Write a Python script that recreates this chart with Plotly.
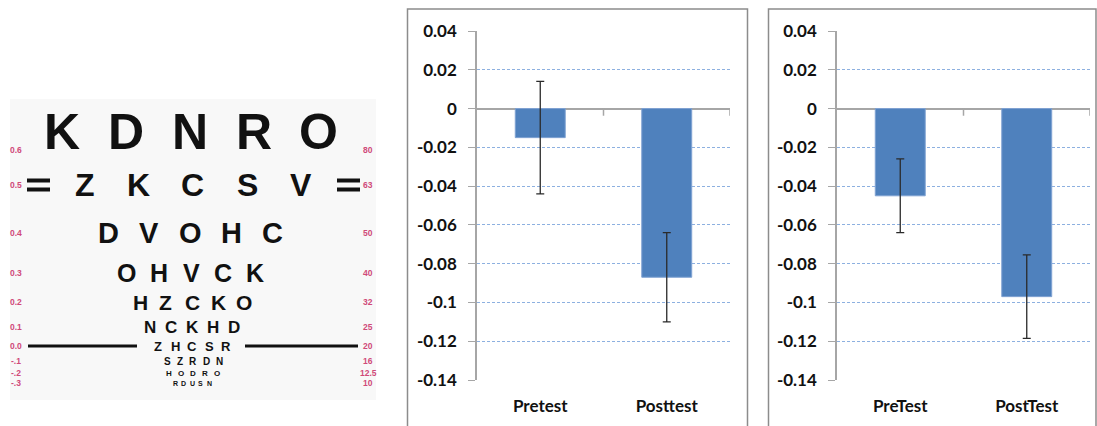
import plotly.graph_objects as go

W, H = 1097, 426

# ---------------- data ----------------
categories_1 = ["Pretest", "Posttest"]
means_1 = [-0.015, -0.087]
errors_1 = [0.029, 0.023]

categories_2 = ["PreTest", "PostTest"]
means_2 = [-0.045, -0.097]
errors_2 = [0.019, 0.0215]

y_ticks = [0.04, 0.02, 0, -0.02, -0.04, -0.06, -0.08, -0.1, -0.12, -0.14]
y_tick_labels = ["0.04", "0.02", "0", "-0.02", "-0.04", "-0.06", "-0.08", "-0.1", "-0.12", "-0.14"]

chart_rows = ["KDNRO", "ZKCSV", "DVOHC", "OHVCK", "HZCKO", "NCKHD", "ZHCSR", "SZRDN", "HODRO", "RDUSN"]
logmar_labels = ["0.6", "0.5", "0.4", "0.3", "0.2", "0.1", "0.0", "-.1", "-.2", "-.3"]
snellen_labels = ["80", "63", "50", "40", "32", "25", "20", "16", "12.5", "10"]

# ---------------- styles / layout helpers ----------------
row_y_px = [132, 185, 233, 273, 302, 327, 346, 361, 373, 383]
label_y_px = [150, 185, 233, 273, 302, 327, 346, 361, 373, 383]
row_font = [50, 32, 29, 25, 21, 17, 13, 10, 8, 7]
row_cx = [190, 193, 190, 191, 192, 192, 192, 193, 193, 192]
row_dx = [64, 54, 41, 32, 26, 21, 17, 13, 12, 8.5]

BAR_COLOR = "#4F81BD"
GRID_COLOR = "#8DB0E0"
AXIS_COLOR = "#A6A6A6"
FRAME_COLOR = "#8C8C8C"
FONT = "Lato"


def px(x):
    return x / W


def py(y):
    return 1 - y / H


fig = go.Figure()

for i, (cats, means, errs) in enumerate([(categories_1, means_1, errors_1),
                                          (categories_2, means_2, errors_2)]):
    sfx = "" if i == 0 else str(i + 1)
    fig.add_trace(go.Bar(
        x=cats, y=means, width=0.395,
        marker=dict(color=BAR_COLOR, line=dict(color="#7FA2D2", width=1)),
        error_y=dict(type="data", array=errs, color="#2a2a2a", thickness=1.3, width=4),
        xaxis="x" + sfx, yaxis="y" + sfx, showlegend=False, hoverinfo="skip",
    ))

axis_common_y = dict(
    range=[-0.14, 0.04], tickvals=y_ticks, ticktext=y_tick_labels,
    showgrid=True, gridcolor=GRID_COLOR, griddash="3px,2px", gridwidth=1,
    zeroline=True, zerolinecolor=AXIS_COLOR, zerolinewidth=1.5,
    showline=True, linecolor=AXIS_COLOR, linewidth=1.5,
    ticks="outside", ticklen=7, tickcolor=AXIS_COLOR, tickwidth=1,
    tickfont=dict(family=FONT, size=17, color="#111111", weight="bold"),
    ticklabelstandoff=8, fixedrange=True, automargin=False,
)
axis_common_x = dict(
    range=[-0.5, 1.5], showline=False, showgrid=False, zeroline=False, ticks="",
    tickfont=dict(family=FONT, size=17, color="#111111", weight="bold"),
    ticklabelstandoff=14, fixedrange=True, automargin=False,
)

ydom = [py(380), py(31)]
fig.update_layout(
    xaxis=dict(domain=[px(477), px(730)], anchor="y", **axis_common_x),
    yaxis=dict(domain=ydom, anchor="x", **axis_common_y),
    xaxis2=dict(domain=[px(837), px(1090)], anchor="y2", **axis_common_x),
    yaxis2=dict(domain=ydom, anchor="x2", **axis_common_y),
)

shapes = []
# frames around the two charts
shapes.append(dict(type="rect", xref="paper", yref="paper", x0=px(407.5), x1=px(747.5),
                   y0=-0.02, y1=py(9), line=dict(color=FRAME_COLOR, width=1.5)))
shapes.append(dict(type="rect", xref="paper", yref="paper", x0=px(768.5), x1=px(1096),
                   y0=-0.02, y1=py(9), line=dict(color=FRAME_COLOR, width=1.5)))
# category boundary tick marks on the zero line
for sfx in ["", "2"]:
    for xb in [0.5, 1.5]:
        shapes.append(dict(type="line", xref="x" + sfx, yref="y" + sfx, x0=xb, x1=xb,
                           y0=0, y1=-0.0037, line=dict(color=AXIS_COLOR, width=1.5)))

# eye chart background
shapes.append(dict(type="rect", xref="paper", yref="paper", x0=px(10), x1=px(376),
                   y0=py(400), y1=py(99), fillcolor="#F8F8F8", line=dict(width=0), layer="below"))
# "=" markers on row 2
for xa, xb in [(27, 50), (337, 360)]:
    for yy in [180.5, 189.5]:
        shapes.append(dict(type="line", xref="paper", yref="paper", x0=px(xa), x1=px(xb),
                           y0=py(yy), y1=py(yy), line=dict(color="#111111", width=4)))
# 20/20 line
for xa, xb in [(28, 137), (245, 358)]:
    shapes.append(dict(type="line", xref="paper", yref="paper", x0=px(xa), x1=px(xb),
                       y0=py(346), y1=py(346), line=dict(color="#111111", width=3)))

annotations = []
for r, row in enumerate(chart_rows):
    n = len(row)
    for j, ch in enumerate(row):
        annotations.append(dict(
            text=ch, xref="paper", yref="paper",
            x=px(row_cx[r] + (j - (n - 1) / 2) * row_dx[r]), y=py(row_y_px[r]),
            xanchor="center", yanchor="middle", showarrow=False,
            font=dict(family="Liberation Sans", size=row_font[r], color="#111111", weight="bold"),
        ))
for r in range(len(logmar_labels)):
    annotations.append(dict(text=logmar_labels[r], xref="paper", yref="paper",
                            x=px(16), y=py(label_y_px[r]), xanchor="center", yanchor="middle",
                            showarrow=False,
                            font=dict(family="Liberation Sans", size=8.5, color="#D04A78", weight="bold")))
    annotations.append(dict(text=snellen_labels[r], xref="paper", yref="paper",
                            x=px(368), y=py(label_y_px[r]), xanchor="center", yanchor="middle",
                            showarrow=False,
                            font=dict(family="Liberation Sans", size=8.5, color="#D04A78", weight="bold")))

fig.update_layout(
    width=W, height=H, autosize=False,
    margin=dict(l=0, r=0, t=0, b=0, pad=0, autoexpand=False),
    paper_bgcolor="white", plot_bgcolor="rgba(0,0,0,0)",
    bargap=0.6, shapes=shapes, annotations=annotations,
)

fig.write_html("out.html", config={"responsive": False, "displayModeBar": False},
               post_script="document.body.style.margin='0px';document.body.style.overflow='hidden';")
